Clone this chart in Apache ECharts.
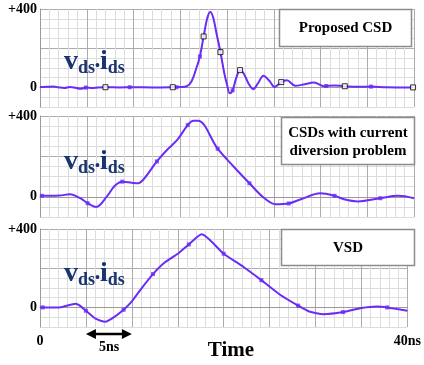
<!DOCTYPE html>
<html><head><meta charset="utf-8">
<script src="https://cdn.jsdelivr.net/npm/echarts@6/dist/echarts.min.js"></script>
<style>html,body{margin:0;padding:0;background:#fff}#c{width:424px;height:365px}</style>
</head><body><div id="c"></div>
<script>
// ---- data (time in ns, value in vds*ids units) ----
const panelTitles = [['Proposed CSD'], ['CSDs with current', 'diversion problem'], ['VSD']];
const yTickLabels = {0: '0', 400: '+400'};
const xTickLabels = {0: '0', 40: '40ns'};

const p1T = [0,0.7,1.4,2.0,2.6,3.2,3.8,4.3,4.9,5.6,6.2,7.0,8.5,10.0,12.0,14.2,15.0,15.7,16.2,16.7,17.1,17.5,17.9,18.2,18.5,18.9,19.3,19.7,20.0,20.3,20.6,21.0,21.4,21.8,22.3,22.8,23.3,23.9,24.5,25.1,25.8,26.4,27.3,28.3,29.3,30.4,31.4,32.6,34.0,35.4,37.0,39.9];
const p1V = [2,3,4,0,-3,2,-2,-7,-1,-3,0,1,0,1,0,1,2,6,30,95,158,260,355,385,360,270,180,75,15,-30,-15,50,88,70,20,-9,20,59,35,2,27,36,8,16,25,6,10,6,3,4,1,0];
const p1HollowT = [7.0,14.2,17.5,19.3,21.4,25.8,32.6,39.9];
const p1HollowV = [1,1,260,180,88,27,6,0];
const p1FilledT = [4.9,9.6,14.6,17.1,20.6,30.6,35.4];
const p1FilledV = [-1,1,1,158,-15,7,4];

const p2T = [0,1,2.1,3.2,4.3,5.1,6.0,7.2,8.0,8.8,9.8,10.5,11.1,12.5,13.6,14.7,15.8,16.4,16.9,19.0,20.7,22.4,23.9,25.2,26.6,27.9,30.0,31.5,32.5,34.0,36.4,38.3,40];
const p2V = [5,5,6,13,-7,-32,-50,5,55,75,70,67,88,175,233,283,355,377,377,238,150,67,-3,-37,-33,-12,17,5,-12,-23,-7,5,-7];
const p2MarkT = [0.2,5.1,8.8,12.5,15.8,19.0,22.4,26.6,31.5,36.4];
const p2MarkV = [5,-32,75,175,355,238,67,-33,5,-7];

const p3T = [0,1,2.1,3.9,4.3,5.0,6.1,7.1,7.9,9.1,10.0,11.1,12.3,13.6,15.0,16.2,17.6,20.0,22.2,24.1,26.1,28.1,29.3,30.9,33.0,35.0,36.7,37.8,40];
const p3V = [0,0,0,19,10,-17,-59,-73,-55,-12,31,100,170,230,274,321,373,274,205,139,66,9,-21,-35,-24,-3,5,0,-17];
const p3MarkT = [0.3,5.0,9.1,12.3,16.2,20.0,24.1,28.1,33.0,37.8];
const p3MarkV = [0,-17,-12,170,321,274,139,9,-24,0];

// ---- chart ----
const zip = (a, b) => a.map((t, i) => [t, b[i]]);
const LINE = '#6a2cf6';
const NAVY = '#1b3470';
const SERIF = '"Liberation Serif","Times New Roman",serif';
const grids = [
  {left: 40, top: 9, width: 374, height: 98},
  {left: 40, top: 116, width: 374, height: 101},
  {left: 40, top: 229, width: 374, height: 98}
];
const xAxes = grids.map((g, i) => ({
  type: 'value', gridIndex: i, min: 0, max: 40, interval: 5,
  axisLine: {show: true, lineStyle: {color: '#9a9a9a', width: 1}},
  axisTick: {show: false},
  axisLabel: {show: i === 2, margin: 7, fontFamily: SERIF, fontWeight: 'bold', fontSize: 14, color: '#000',
    formatter: v => xTickLabels[v] || ''},
  splitLine: {show: true, lineStyle: {color: '#ababab', width: 1}},
  minorTick: {show: false, splitNumber: 5},
  minorSplitLine: {show: true, lineStyle: {color: '#dcdcdc', width: 1}}
}));
const yAxes = grids.map((g, i) => ({
  type: 'value', gridIndex: i, min: -100, max: 400, interval: 100,
  axisLine: {show: true, lineStyle: {color: '#9a9a9a', width: 1}},
  axisTick: {show: false},
  axisLabel: {margin: 3, fontFamily: SERIF, fontWeight: 'bold', fontSize: 14, color: '#000',
    formatter: v => yTickLabels[v] || ''},
  splitLine: {show: true, lineStyle: {color: ['#dcdcdc', '#ababab'], width: 1}},
  minorTick: {show: false, splitNumber: 2},
  minorSplitLine: {show: true, lineStyle: {color: '#dcdcdc', width: 1}}
}));

const lineSeries = (i, T, V, smooth) => ({
  type: 'line', xAxisIndex: i, yAxisIndex: i, data: zip(T, V), smooth: smooth,
  showSymbol: false, lineStyle: {color: LINE, width: 2}, z: 3, silent: true
});
const markSeries = (i, T, V, hollow) => ({
  type: 'scatter', xAxisIndex: i, yAxisIndex: i, data: zip(T, V), symbol: 'rect',
  symbolSize: hollow ? 5 : 4, z: 4, silent: true,
  itemStyle: hollow ? {color: '#fff', borderColor: '#000', borderWidth: 1} : {color: LINE}
});

const series = [
  lineSeries(0, p1T, p1V, 0.35),
  markSeries(0, p1FilledT, p1FilledV, false),
  markSeries(0, p1HollowT, p1HollowV, true),
  lineSeries(1, p2T, p2V, 0.35),
  markSeries(1, p2MarkT, p2MarkV, false),
  lineSeries(2, p3T, p3V, 0.2),
  markSeries(2, p3MarkT, p3MarkV, false)
];

const chart = echarts.init(document.getElementById('c'), null, {renderer: 'canvas'});
chart.setOption({animation: false, grid: grids, xAxis: xAxes, yAxis: yAxes, series: series});

// ---- annotations ----
const cv = document.createElement('canvas').getContext('2d');
function tw(t, size) { cv.font = 'bold ' + size + 'px ' + SERIF; return cv.measureText(t).width; }
function vdsLabel(x, base) {
  const parts = [
    {t: 'v', s: 28, dy: 0}, {t: 'ds', s: 18, dy: 3}, {t: '\u2022', s: 14, dy: 0},
    {t: 'i', s: 28, dy: 0}, {t: 'ds', s: 18, dy: 3}
  ];
  let cx = x; const els = [];
  parts.forEach(p => {
    els.push({type: 'text', x: cx, y: base + p.dy - 0.3375 * p.s, z: 10,
      style: {text: p.t, fill: NAVY, font: 'bold ' + p.s + 'px ' + SERIF, align: 'left', verticalAlign: 'middle'}});
    cx += tw(p.t, p.s);
  });
  return els;
}
function box(x, y, w, h, lines, cy, lh) {
  const els = [{type: 'rect', shape: {x: x, y: y, width: w, height: h}, z: 10,
    style: {fill: '#fff', stroke: '#8c8c8c', lineWidth: 1.5}}];
  lines.forEach((l, k) => els.push({type: 'text', x: x + w / 2, y: cy + k * lh, z: 11,
    style: {text: l, fill: '#000', font: 'bold 15px ' + SERIF, align: 'center', verticalAlign: 'middle'}}));
  return els;
}
const a0 = chart.convertToPixel({xAxisIndex: 2}, 5);
const a1 = chart.convertToPixel({xAxisIndex: 2}, 10);
const ay = 334;
const graphics = [].concat(
  vdsLabel(64, 71), vdsLabel(64, 171), vdsLabel(64, 283),
  box(279.5, 9.5, 132, 37, panelTitles[0], 28.5, 18),
  box(281.5, 117.5, 133, 47, panelTitles[1], 133, 18),
  box(281.5, 229.5, 133, 36, panelTitles[2], 248, 18),
  [
    {type: 'line', shape: {x1: a0 + 6, y1: ay, x2: a1 - 6, y2: ay}, z: 10, style: {stroke: '#000', lineWidth: 2.5}},
    {type: 'polygon', shape: {points: [[a0, ay], [a0 + 10, ay - 5], [a0 + 10, ay + 5]]}, z: 10, style: {fill: '#000'}},
    {type: 'polygon', shape: {points: [[a1, ay], [a1 - 10, ay - 5], [a1 - 10, ay + 5]]}, z: 10, style: {fill: '#000'}},
    {type: 'text', x: 109, y: 347, z: 10, style: {text: '5ns', fill: '#000', font: 'bold 14px ' + SERIF, align: 'center', verticalAlign: 'middle'}},
    {type: 'text', x: 231, y: 351, z: 10, style: {text: 'Time', fill: '#000', font: 'bold 21px ' + SERIF, align: 'center', verticalAlign: 'middle'}}
  ]
);
chart.setOption({graphic: graphics});
</script>
</body></html>
